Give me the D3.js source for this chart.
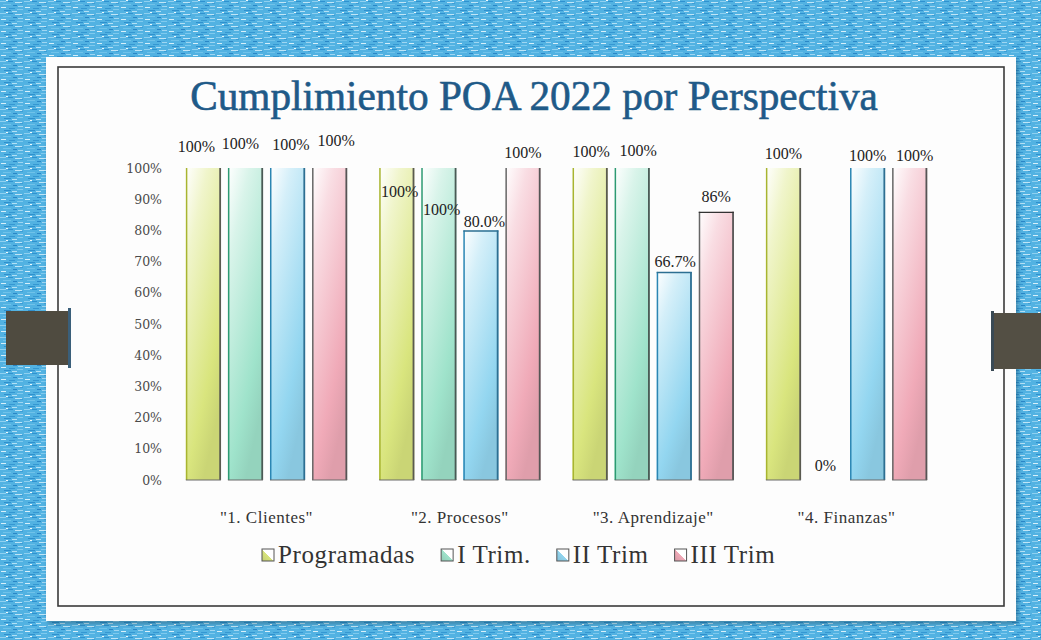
<!DOCTYPE html>
<html><head><meta charset="utf-8">
<script src="https://cdn.jsdelivr.net/npm/d3@7"></script>
<style>html,body{margin:0;padding:0;background:#fff;}svg{display:block;}</style>
</head><body>
<svg id="chart" width="1041" height="640"></svg>
<script>
// ---- data ----
const categories = ['"1. Clientes"', '"2. Procesos"', '"3. Aprendizaje"', '"4. Finanzas"'];
const seriesNames = ["Programadas", "I Trim.", "II Trim", "III Trim"];
const programadas = [1.00, 1.00, 1.00, 1.00];
const iTrim       = [1.00, 1.00, 1.00, 0.00];
const iiTrim      = [1.00, 0.80, 0.667, 1.00];
const iiiTrim     = [1.00, 1.00, 0.86, 1.00];
const labelsProgramadas = ["100%", "100%", "100%", "100%"];
const labelsITrim       = ["100%", "100%", "100%", "0%"];
const labelsIITrim      = ["100%", "80.0%", "66.7%", "100%"];
const labelsIIITrim     = ["100%", "100%", "86%", "100%"];
const yTicks = [0, 0.1, 0.2, 0.3, 0.4, 0.5, 0.6, 0.7, 0.8, 0.9, 1.0];
const titleText = "Cumplimiento POA 2022 por Perspectiva";

// ---- styles / layout (not data) ----
const fills = ["#d9e57e", "#9fe3cb", "#93d6f0", "#f0aab8"];
const edgeL = ["#a8b530", "#2d9a72", "#2b86b3", "#666666"];
const edgeR = ["#5a5a50", "#4a5a55", "#2d6f92", "#555555"];
// per-label nudges [series][category] in px, to mimic the hand-placed labels
const labelDx = [[-7, 3, 1, 0], [-5, 3, 6, 0], [3.5, 3.5, 1, 0], [6.5, 0, 0, 5]];
const labelDy = [[-2, 43, 3, 5], [-5, 61, 2, 5], [-4, 11, 9, 7], [-8, 4, 4, 7]];

const series = [programadas, iTrim, iiTrim, iiiTrim];
const labels = [labelsProgramadas, labelsITrim, labelsIITrim, labelsIIITrim];

const svg = d3.select("#chart");
const defs = svg.append("defs");

// ---- blue textured background ----
const pat = defs.append("pattern").attr("id", "tex").attr("patternUnits", "userSpaceOnUse")
  .attr("width", 24).attr("height", 12);
pat.append("rect").attr("width", 24).attr("height", 12).attr("fill", "#52b2e2");
const marks = [[0,1,6,"#8fd0f0"],[8,1,5,"#2f92d0"],[15,2,7,"#bfe5f7"],[3,4,8,"#6fc2ea"],[13,5,4,"#2a86c6"],
  [18,6,5,"#9fd6f2"],[1,7,5,"#d6effa"],[9,8,6,"#3597d2"],[17,9,6,"#7fcaee"],[4,10,7,"#2f90ce"],[12,11,5,"#b3e0f5"],
  [20,3,3,"#3d9dd6"],[6,0,2,"#eef8fd"]];
marks.forEach(m => pat.append("rect").attr("x", m[0]).attr("y", m[1]).attr("width", m[2]).attr("height", 1).attr("fill", m[3]));
svg.append("rect").attr("width", 1041).attr("height", 640).attr("fill", "url(#tex)");

// paper with shadow
const sh = defs.append("filter").attr("id", "shadow").attr("x", "-5%").attr("y", "-5%").attr("width", "110%").attr("height", "110%");
sh.append("feDropShadow").attr("dx", 2).attr("dy", 3).attr("stdDeviation", 2).attr("flood-color", "#000").attr("flood-opacity", 0.25);
svg.append("rect").attr("x", 46).attr("y", 57).attr("width", 970).attr("height", 564).attr("fill", "#fdfdfd").attr("filter", "url(#shadow)");
svg.append("rect").attr("x", 58).attr("y", 67).attr("width", 946).attr("height", 539)
  .attr("fill", "none").attr("stroke", "#3a3a3a").attr("stroke-width", 1.6);

// binder clips
svg.append("rect").attr("x", 6).attr("y", 311).attr("width", 64).attr("height", 54).attr("fill", "#4f4b40");
svg.append("rect").attr("x", 68).attr("y", 308).attr("width", 3).attr("height", 60).attr("fill", "#3a5f7a");
svg.append("rect").attr("x", 992).attr("y", 313).attr("width", 49).attr("height", 56).attr("fill", "#534f44");
svg.append("rect").attr("x", 991).attr("y", 311).attr("width", 3).attr("height", 60).attr("fill", "#3a4a55");

// ---- title ----
const title = svg.append("text").attr("x", 534).attr("y", 110).attr("text-anchor", "middle")
  .attr("font-family", "Liberation Serif, DejaVu Serif, serif").attr("font-weight", "normal")
  .attr("stroke", "#1f5a88").attr("stroke-width", 0.6)
  .attr("font-size", 40).attr("fill", "#1f5a88").text(titleText);
{
  const w = title.node().getComputedTextLength();
  title.attr("font-size", 40 * 688 / w);
}

// ---- scales ----
const x0 = d3.scaleBand().domain(categories).range([169.8, 943.2]).paddingInner(0.166).paddingOuter(0.083);
const x1 = d3.scaleBand().domain(d3.range(4)).range([0, x0.bandwidth()]).paddingInner(0.1667).paddingOuter(0);
const y = d3.scaleLinear().domain([0, 1]).range([480, 168]);

// y axis (labels only)
const yAxis = svg.append("g").attr("transform", "translate(162,0)")
  .call(d3.axisLeft(y).tickValues(yTicks).tickFormat(d3.format(".0%")).tickSize(0).tickPadding(0));
yAxis.select(".domain").remove();
yAxis.selectAll("text").attr("font-family", "DejaVu Serif, Liberation Serif, serif").attr("font-size", 12.5)
  .attr("fill", "#4a4a4a");

// x axis labels
const xAxis = svg.append("g").attr("transform", "translate(0,480)")
  .call(d3.axisBottom(x0).tickSize(0).tickPadding(31));
xAxis.select(".domain").remove();
xAxis.selectAll("text").attr("font-family", "Liberation Serif, DejaVu Serif, serif").attr("font-size", 17)
  .attr("letter-spacing", 0.5).attr("fill", "#333");

// gradients
fills.forEach((c, i) => {
  const g = defs.append("linearGradient").attr("id", "g" + i).attr("x1", 0).attr("y1", 0).attr("x2", 0.5).attr("y2", 1);
  g.append("stop").attr("offset", 0).attr("stop-color", "#ffffff");
  g.append("stop").attr("offset", 0.25).attr("stop-color", d3.interpolateRgb("#ffffff", c)(0.4));
  g.append("stop").attr("offset", 0.8).attr("stop-color", c);
  g.append("stop").attr("offset", 1).attr("stop-color", d3.color(c).darker(0.2));
  const lg = defs.append("linearGradient").attr("id", "lg" + i).attr("x1", 1).attr("y1", 0).attr("x2", 0).attr("y2", 1);
  lg.append("stop").attr("offset", 0.5).attr("stop-color", "#ffffff");
  lg.append("stop").attr("offset", 0.5).attr("stop-color", c);
  lg.append("stop").attr("offset", 1).attr("stop-color", d3.color(c).darker(0.3));
});

// ---- bars ----
const groups = svg.append("g").selectAll("g").data(categories).join("g")
  .attr("transform", d => `translate(${x0(d)},0)`);

groups.each(function(cat, ci) {
  const g = d3.select(this);
  series.forEach((s, si) => {
    const v = s[ci];
    const bx = x1(si), bw = x1.bandwidth();
    const top = y(v), bot = y(0);
    if (v > 0) {
      g.append("rect").attr("x", bx).attr("y", top).attr("width", bw).attr("height", bot - top)
        .attr("fill", `url(#g${si})`);
      g.append("line").attr("x1", bx + 0.75).attr("x2", bx + 0.75).attr("y1", top).attr("y2", bot)
        .attr("stroke", edgeL[si]).attr("stroke-width", 1.5);
      g.append("line").attr("x1", bx + bw - 0.75).attr("x2", bx + bw - 0.75).attr("y1", top).attr("y2", bot)
        .attr("stroke", edgeR[si]).attr("stroke-width", 1.8);
      g.append("line").attr("x1", bx).attr("x2", bx + bw).attr("y1", bot).attr("y2", bot)
        .attr("stroke", "#6a6a6a").attr("stroke-width", 1.2);
      if (v < 1) {
        g.append("line").attr("x1", bx).attr("x2", bx + bw).attr("y1", top + 0.6).attr("y2", top + 0.6)
          .attr("stroke", si === 2 ? edgeR[si] : "#333").attr("stroke-width", 1.3);
      }
    }
    g.append("text").attr("x", bx + bw / 2 + labelDx[si][ci]).attr("y", top - 14 + labelDy[si][ci])
      .attr("text-anchor", "middle").attr("font-family", "Liberation Serif, DejaVu Serif, serif")
      .attr("font-size", 16).attr("fill", "#222").text(labels[si][ci]);
  });
});

// ---- legend ----
const legend = svg.append("g");
let lx = 262;
seriesNames.forEach((n, i) => {
  legend.append("rect").attr("x", lx).attr("y", 549).attr("width", 12).attr("height", 12)
    .attr("fill", `url(#lg${i})`).attr("stroke", "#555").attr("stroke-width", 1);
  const t = legend.append("text").attr("x", lx + 16).attr("y", 563)
    .attr("font-family", "Liberation Serif, DejaVu Serif, serif").attr("font-size", 25)
    .attr("letter-spacing", 0.6).attr("fill", "#333").text(n);
  lx += 16 + t.node().getComputedTextLength() + 26;
});
</script>
</body></html>
